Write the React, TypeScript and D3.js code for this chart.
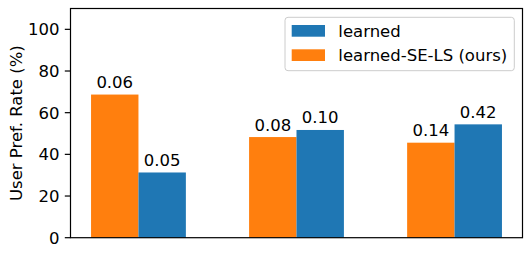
import React from "react";
import * as d3 from "d3";

const groups = [0, 1, 2];
const oursValues = [68.7, 48.3, 45.6];
const learnedValues = [31.3, 51.7, 54.4];
const oursLabels = ["0.06", "0.08", "0.14"];
const learnedLabels = ["0.05", "0.10", "0.42"];
const yTicks = [0, 20, 40, 60, 80, 100];
const seriesNames = ["learned", "learned-SE-LS (ours)"];

const BLUE = "#1f77b4";
const ORANGE = "#ff7f0e";
const FONT = "DejaVu Sans, sans-serif";
const FS = 16.5;

export default function App() {
  const W = 532, H = 257;
  const left = 70.5, right = 522.5, top = 8.5, bottom = 237.7;
  const width = 0.3;
  const x = d3.scaleLinear().domain([-0.43, 2.43]).range([left, right]);
  const y = d3.scaleLinear().domain([0, 110]).range([bottom, top]);
  const bw = x(width) - x(0);

  return (
    <svg width={W} height={H} style={{ position: "absolute", left: 0, top: 0 }}>
      <rect x={0} y={0} width={W} height={H} fill="white" />
      {groups.map((g, i) => (
        <g key={g}>
          <rect x={x(g - width)} y={y(oursValues[i])} width={bw} height={y(0) - y(oursValues[i])} fill={ORANGE} />
          <rect x={x(g)} y={y(learnedValues[i])} width={bw} height={y(0) - y(learnedValues[i])} fill={BLUE} />
          <text x={x(g - width / 2)} y={y(oursValues[i]) - 6.5} textAnchor="middle" fontFamily={FONT} fontSize={FS} fill="black">{oursLabels[i]}</text>
          <text x={x(g + width / 2)} y={y(learnedValues[i]) - 6.5} textAnchor="middle" fontFamily={FONT} fontSize={FS} fill="black">{learnedLabels[i]}</text>
        </g>
      ))}
      {yTicks.map((t) => (
        <g key={t}>
          <line x1={left - 5.7} x2={left} y1={y(t)} y2={y(t)} stroke="black" strokeWidth={1.2} />
          <text x={left - 11} y={y(t)} dy="0.36em" textAnchor="end" fontFamily={FONT} fontSize={FS} fill="black">{t}</text>
        </g>
      ))}
      <rect x={left} y={top} width={right - left} height={bottom - top} fill="none" stroke="black" strokeWidth={1.2} />
      <text transform={`translate(${21.5},${(top + bottom) / 2}) rotate(-90)`} textAnchor="middle" fontFamily={FONT} fontSize={FS} fill="black">User Pref. Rate (%)</text>
      <g>
        <rect x={285} y={17.3} width={229.3} height={53.4} rx={3} fill="white" fillOpacity={0.8} stroke="#cccccc" strokeWidth={1} />
        <rect x={291.7} y={25} width={33.3} height={11.7} fill={BLUE} />
        <rect x={291.7} y={49.3} width={33.3} height={11.7} fill={ORANGE} />
        <text x={338.3} y={30.8} dy="0.36em" fontFamily={FONT} fontSize={FS} fill="black">{seriesNames[0]}</text>
        <text x={338.3} y={55.2} dy="0.36em" fontFamily={FONT} fontSize={FS} fill="black">{seriesNames[1]}</text>
      </g>
    </svg>
  );
}
